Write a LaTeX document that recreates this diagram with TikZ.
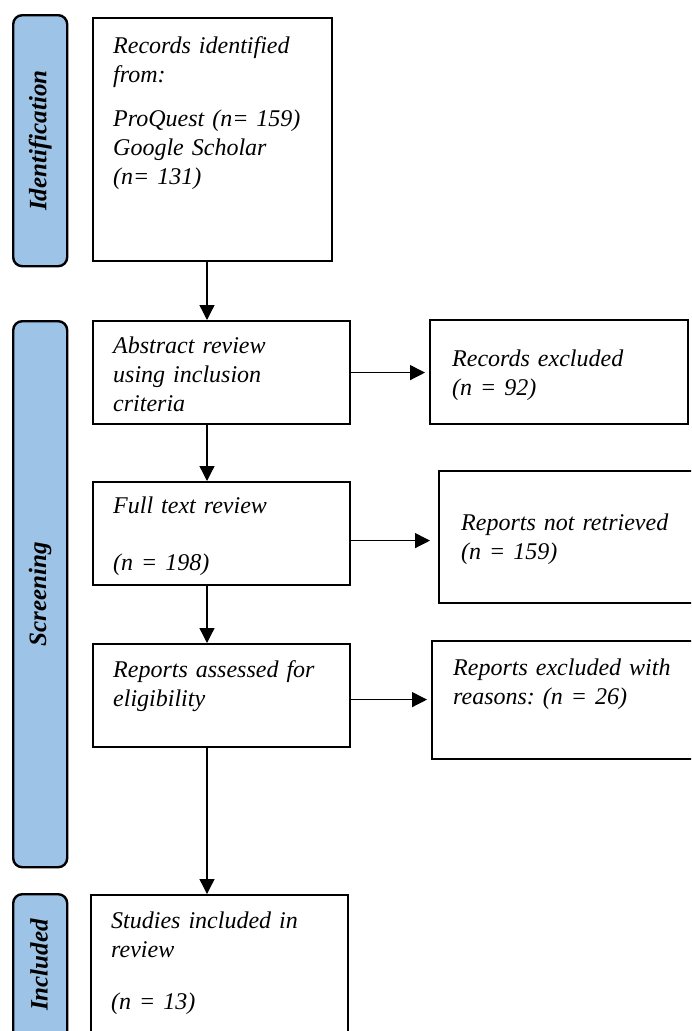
\documentclass[tikz,border=0pt]{standalone}
\usepackage{fontspec}
\setmainfont{Liberation Serif}
\usetikzlibrary{arrows.meta}
\definecolor{barblue}{HTML}{9DC3E6}
\newcommand{\boxtextfont}{\fontsize{24}{29}\selectfont\itshape\frenchspacing\spaceskip=5pt plus 1.2pt minus 0.8pt\relax}
\begin{document}
\begin{tikzpicture}[x=1pt,y=-1pt,
  boxst/.style={draw, line width=2.2pt, anchor=north west, inner sep=0pt},
  barst/.style={draw, line width=2.4pt, fill=barblue, rounded corners=9pt, anchor=north west, inner sep=0pt},
  txt/.style={anchor=base west, inner sep=0pt, align=left, text width=#1, font=\boxtextfont},
  txt/.default=240pt,
  barlbl/.style={rotate=90, font=\fontsize{25}{28}\selectfont\bfseries\itshape},
  arr/.style={line width=1.3pt, -{Triangle[length=15pt,width=15pt]}}
]
\clip (0,0) rectangle (691,1031);
% phase bars
\node[barst, minimum width=54pt, minimum height=251pt] (s1) at (12,14) {};
\node[barst, minimum width=54pt, minimum height=546pt] (s2) at (12,320) {};
\node[barst, minimum width=54pt, minimum height=160pt] (s3) at (12,893) {};
\node[barlbl] (l1) at (s1.center) {Identification};
\node[barlbl] (l2) at (s2.center) {Screening};
\node[barlbl] (l3) at (39,965) {Included};
% main boxes
\node[boxst, minimum width=239pt, minimum height=243pt] (b1) at (92,17) {};
\node[boxst, minimum width=257pt, minimum height=103pt] (b2) at (92,320) {};
\node[boxst, minimum width=257pt, minimum height=103pt] (b3) at (92,481) {};
\node[boxst, minimum width=257pt, minimum height=103pt] (b4) at (92,643) {};
\node[boxst, minimum width=257pt, minimum height=160pt] (b5) at (90,894) {};
% right boxes
\node[boxst, minimum width=258pt, minimum height=104pt] (r1) at (429,319) {};
\node[boxst, minimum width=270pt, minimum height=132pt] (r2) at (438,470) {};
\node[boxst, minimum width=270pt, minimum height=118pt] (r3) at (431,640) {};
% texts
\node[txt] (t1) at (113,53) {Records identified\\ from:\\[15pt] ProQuest (n= 159)\\ Google Scholar\\ (n= 131)};
\node[txt] (t2) at (113,353) {Abstract review\\ using inclusion\\ criteria};
\node[txt] (t3) at (113,513) {Full text review\\[28pt] (n = 198)};
\node[txt] (t4) at (113,677) {Reports assessed for\\ eligibility};
\node[txt] (t5) at (111,928) {Studies included in\\ review\\[23pt] (n = 13)};
\node[txt] (u1) at (452,366) {Records excluded\\ (n = 92)};
\node[txt] (u2) at (461,530) {Reports not retrieved\\ (n = 159)};
\node[txt] (u3) at (453,675) {Reports excluded with\\ reasons: (n = 26)};
% connectors
\coordinate (ax) at (207,0);
\draw[arr] (ax |- b1.south) -- (ax |- b2.north);
\draw[arr] (ax |- b2.south) -- (ax |- b3.north);
\draw[arr] (ax |- b3.south) -- (ax |- b4.north);
\draw[arr] (ax |- b4.south) -- (ax |- b5.north);
\draw[arr] (b2.east) -- ([xshift=-4pt]b2.east -| r1.west);
\draw[arr] ([yshift=-7pt]b3.east) -- ([yshift=-7pt,xshift=-8pt]b3.east -| r2.west);
\draw[arr] ([yshift=-4pt]b4.east) -- ([yshift=-4pt,xshift=-4pt]b4.east -| r3.west);
\end{tikzpicture}
\end{document}
